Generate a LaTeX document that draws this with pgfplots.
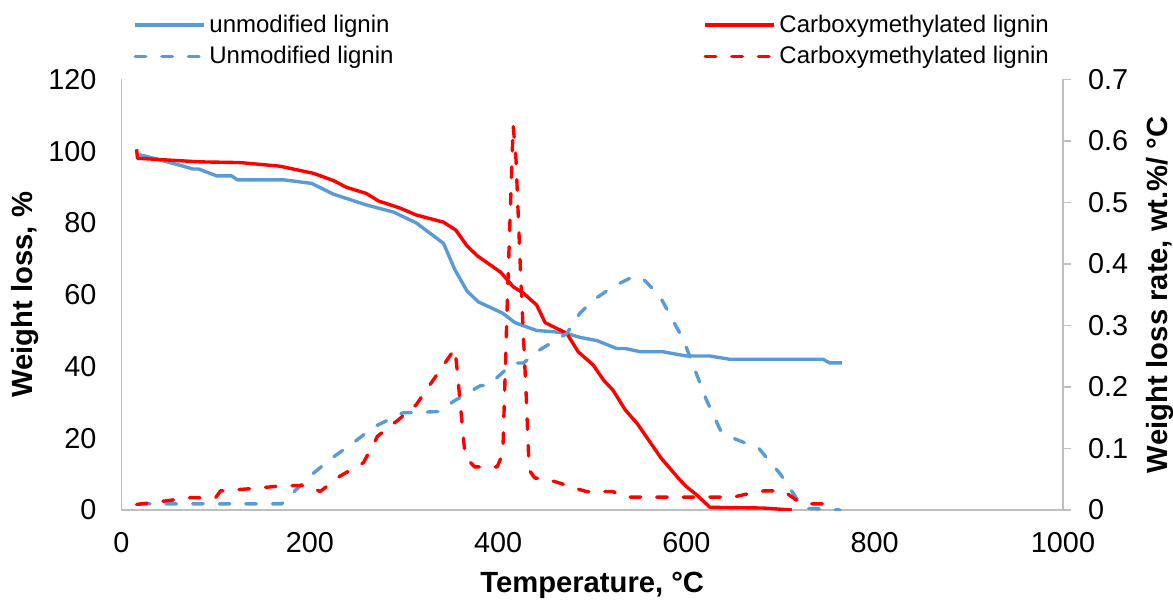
\documentclass[border=0pt]{standalone}
\usepackage{fontspec}
\setmainfont{Liberation Sans}
\usepackage{pgfplots}
\pgfplotsset{compat=1.18}
\definecolor{ublue}{RGB}{91,155,213}
\definecolor{axgray}{RGB}{191,191,191}
\begin{document}
\begin{tikzpicture}
\useasboundingbox (-60.75pt,-45.5pt) rectangle (525.75pt,255pt);
\pgfplotsset{
  mybase/.style={
    at={(0pt,0pt)}, anchor=south west,
    scale only axis, width=470.75pt, height=215.35pt,
    xmin=0, xmax=1000,
    /pgf/number format/assume math mode=true,
    /pgf/number format/1000 sep={},
    tick label style={font=\fontsize{14.4}{17}\selectfont},
    label style={font=\fontsize{14.6}{17}\selectfont\bfseries},
    legend image code/.code={\draw[##1] (0pt,0pt) -- (34.5pt,0pt);},
    legend style={legend cell align=left, draw=none, fill=none, inner sep=0pt, outer sep=0pt,
      anchor=west, font=\fontsize{12}{14}\selectfont,
      nodes={inner xsep=1.75pt, inner ysep=0.5pt}, row sep=4.5pt},
  },
  solidl/.style={line width=1.7pt, line join=round},
  dashl/.style={line width=1.7pt, line join=round, line cap=round, dash pattern=on 5.3pt off 8pt},
}
\begin{axis}[mybase,
  ymin=0, ymax=120,
  xtick={0,200,400,600,800,1000}, ytick={0,20,40,60,80,100,120},
  axis x line*=bottom, axis y line*=left,
  axis line style={axgray, line width=0.7pt, -},
  tick style={draw=none},
  yticklabel style={xshift=-9pt},
  xticklabel style={yshift=-7.5pt},
  xlabel={Temperature, °C}, ylabel={Weight loss, \%},
  xlabel style={at={(axis description cs:0.5,-0.174)}, anchor=center},
  ylabel style={at={(axis description cs:-0.1025,0.5)}, anchor=center},
  legend style={at={(axis description cs:0.01275,1.0893)}},
]
\addplot[ublue, solidl] coordinates {
(19,99) (40,97.6) (60,96.2) (76,95) (82,95) (101,93.1) (117,93.1) (123,92) (172,92) (202,91)
(225,88) (260,85) (289,83) (313,80) (342,74.3) (354,67) (367,61) (379,58) (405,54.8) (418,52.2)
(441,50) (458,49.7) (473,49.2) (487,48.1) (505,47.2) (526,45) (535,45) (551,44.1) (575,44.1)
(600,42.9) (625,42.9) (646,42) (745,42) (752,41) (765,41)
};
\addlegendentry{unmodified lignin}
\addplot[red, solidl, forget plot] coordinates {
(16,100.5) (17,98) (83,97) (126,96.8) (168,95.8) (204,93.8) (225,91.8) (239,89.9) (260,88.2)
(273,86.1) (296,84.1) (313,82.2) (342,80.2) (355,78) (367,73.6) (378,70.8) (403,66.2) (416,62.2)
(427,60.4) (441,57.1) (450,52.2) (473,49.2) (485,44.1) (501,40.4) (512,36.2) (522,33.4) (535,27.9)
(548,24) (573,14.5) (593,8.4) (600,6.5) (611,4.2) (625,0.75) (682,0.55) (712,0)
};
\addlegendimage{ublue, dashl}
\addlegendentry{Unmodified lignin}
\end{axis}
\begin{axis}[mybase,
  ymin=0, ymax=0.7,
  ytick={0,0.1,0.2,0.3,0.4,0.5,0.6,0.7},
  axis x line=none, axis y line*=right,
  axis line style={axgray, line width=0.7pt, -},
  ytick style={axgray, line width=0.7pt}, tick align=outside, major tick length=4pt,
  yticklabel style={xshift=5pt},
  ylabel={Weight loss rate, wt.\%/ °C},
  ylabel style={at={(axis description cs:1.103,0.5)}, anchor=center},
  legend style={at={(axis description cs:0.6182,1.0893)}},
]
\addplot[ublue, dashl, forget plot] coordinates {
(19,0.01) (170,0.01) (182,0.028) (204,0.06) (225,0.086) (246,0.109) (268,0.135) (299,0.158)
(338,0.16) (352,0.176) (381,0.202) (390,0.203) (416,0.239) (427,0.239) (444,0.26) (473,0.287)
(487,0.32) (501,0.341) (522,0.363) (543,0.379) (554,0.376) (572,0.347) (597,0.276) (621,0.18)
(636,0.13) (646,0.119) (677,0.1) (700,0.058) (724,0.003) (763,0)
};
\addplot[red, dashl, forget plot] coordinates {
(16,0.009) (48,0.015) (73,0.02) (100,0.02) (105,0.031) (140,0.035) (168,0.039) (197,0.04)
(211,0.03) (232,0.055) (257,0.077) (272,0.12) (296,0.149) (313,0.171) (331,0.211) (354,0.262)
(356,0.236) (365,0.087) (375,0.07) (399,0.07) (405,0.092) (410,0.35) (416,0.625) (419,0.57)
(424,0.38) (430,0.18) (433,0.065) (439,0.052) (452,0.05) (467,0.043) (476,0.038) (494,0.03)
(522,0.03) (533,0.021) (650,0.021) (667,0.027) (682,0.031) (703,0.031) (717,0.016) (724,0.01) (756,0.01)
};
\addlegendimage{red, solidl}
\addlegendentry{Carboxymethylated lignin}
\addlegendimage{red, dashl}
\addlegendentry{Carboxymethylated lignin}
\end{axis}
\end{tikzpicture}
\end{document}
